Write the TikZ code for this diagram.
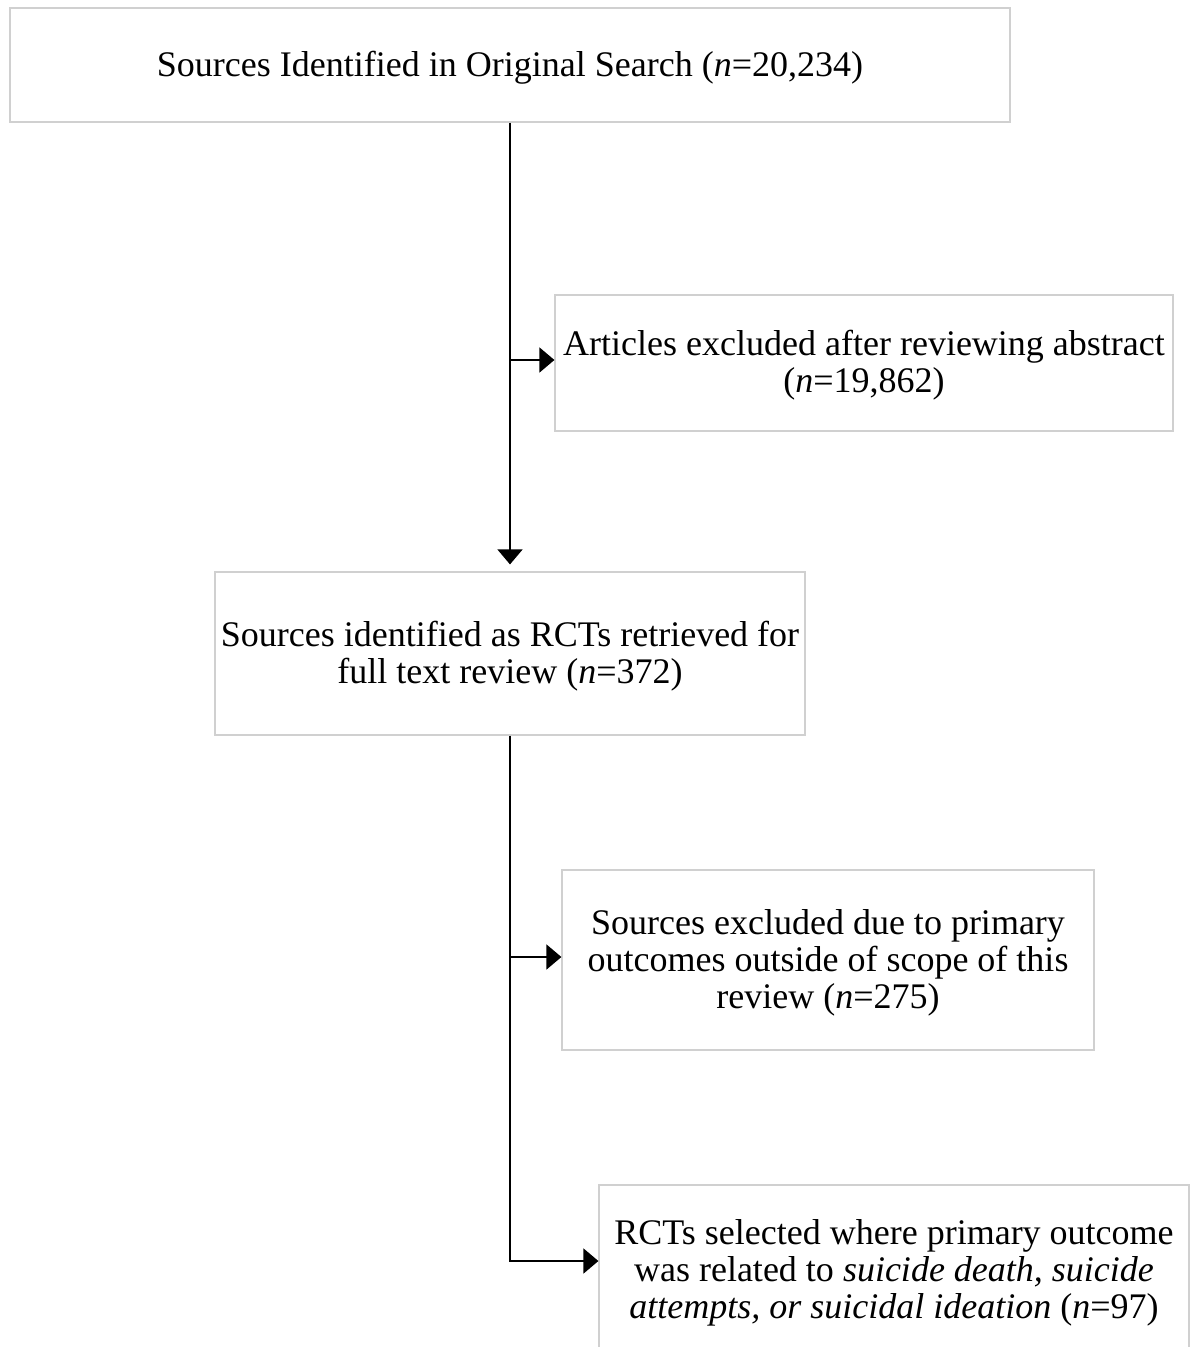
\documentclass[tikz,border=0pt]{standalone}
\usepackage{fontspec}
\setmainfont{Liberation Serif}
\usetikzlibrary{arrows.meta}
\definecolor{boxgray}{RGB}{208,208,208}
\newcommand\bxtext[1]{\raisebox{-4pt}[\height][\depth]{\begin{tabular}{@{}c@{}}#1\end{tabular}}}
\tikzset{
  box/.style={draw=boxgray, line width=1.2pt, fill=white, inner sep=0pt,
    font=\fontsize{36}{37}\selectfont},
  conn/.style={draw=black, line width=1.6pt},
  arr/.style={conn, -{Triangle[length=15pt,width=25pt]}}
}
\begin{document}
\begin{tikzpicture}[x=1pt,y=-1pt]
\clip (0,0) rectangle (1191,1347);
\fill[white] (0,0) rectangle (1191,1347);
\node[box, minimum width=1000pt, minimum height=114pt] (b1) at (510,65)
  {\bxtext{Sources Identified in Original Search (\textit{n}=20,234)}};
\node[box, minimum width=618pt, minimum height=136pt] (b2) at (864,363)
  {\bxtext{Articles excluded after reviewing abstract\\(\textit{n}=19,862)}};
\node[box, minimum width=590pt, minimum height=163pt] (b3) at (510,653.5)
  {\bxtext{Sources identified as RCTs retrieved for\\full text review (\textit{n}=372)}};
\node[box, minimum width=532pt, minimum height=180pt] (b4) at (828,960)
  {\bxtext{Sources excluded due to primary\\outcomes outside of scope of this\\review (\textit{n}=275)}};
\node[box, minimum width=590pt, minimum height=170pt] (b5) at (894,1270)
  {\bxtext{RCTs selected where primary outcome\\was related to \textit{suicide death, suicide}\\\textit{attempts, or suicidal ideation} (\textit{n}=97)}};
\coordinate (j1) at (510,360);
\coordinate (j2) at (510,957);
\coordinate (j3) at (510,1261);
\draw[arr, shorten >=7pt] (b1.south) -- (b3.north);
\draw[arr] (j1) -- (b2.west |- j1);
\draw[arr] (b3.south) -- (j3) -- (b5.west |- j3);
\draw[arr] (j2) -- (b4.west |- j2);
\end{tikzpicture}
\end{document}
